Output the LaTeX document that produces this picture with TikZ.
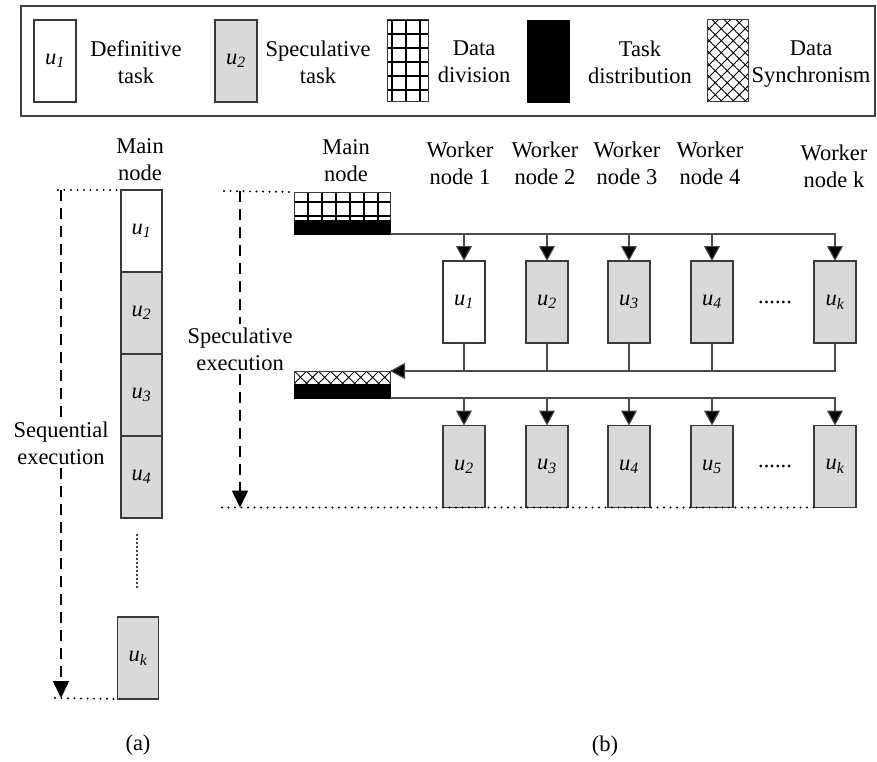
\documentclass[tikz,border=0pt]{standalone}
\usepackage{fontspec}
\setmainfont{Liberation Serif}
\usepackage{tikz}
\usetikzlibrary{arrows.meta,positioning,patterns.meta}
\definecolor{SpecGray}{HTML}{D9D9D9}
\definecolor{EdgeGray}{HTML}{3A3A3A}
\definecolor{LineGray}{HTML}{4A4A4A}
\newcommand{\ut}[1]{\textit{u}\textsubscript{\textit{#1}}}
\tikzset{
  task/.style={draw=EdgeGray,line width=1.2pt,minimum width=42pt,minimum height=82pt,
               inner sep=0pt,outer sep=0pt},
  divbox/.style={draw=EdgeGray,line width=1pt,inner sep=0pt,outer sep=0pt,
               pattern={Hatch[angle=0,distance=14pt,line width=1.2pt]}},
  distbox/.style={draw=black,fill=black,inner sep=0pt,outer sep=0pt},
  syncbox/.style={draw=EdgeGray,line width=1pt,inner sep=0pt,outer sep=0pt,
               pattern={Hatch[angle=45,distance=8.5pt,line width=0.9pt]}},
  lbl/.style={align=center,inner sep=3pt},
  flow/.style={draw=LineGray,line width=1.1pt},
  flowarr/.style={flow,-{Triangle[width=16pt,length=15pt,fill=black]}},
  dotline/.style={line width=2.2pt,line cap=round,dash pattern=on 0pt off 6.5pt},
  timearr/.style={line width=1.6pt,dash pattern=on 11pt off 7pt,
               -{Triangle[width=16pt,length=17pt]}}
}
\begin{document}
\begin{tikzpicture}[x=1pt,y=-1pt,font=\fontsize{22.5}{27}\selectfont]
  \useasboundingbox (0,0) rectangle (877,762);
  % legend
  \draw[draw=black!75,line width=1.5pt] (21,6) rectangle (875,116);
  \node[task,fill=white] (lu1) at (55,61) {\ut{1}};
  \node[lbl] (lt1) at (136,62) {Definitive\\task};
  \node[task,fill=SpecGray] (lu2) at (236,61) {\ut{2}};
  \node[lbl] (lt2) at (318,62) {Speculative\\task};
  \node[divbox,minimum width=41pt,minimum height=82pt] (ldiv) at (407.5,61) {};
  \node[lbl] (lt3) at (474,62) {Data\\division};
  \node[distbox,minimum width=42pt,minimum height=82pt] (ldist) at (548.5,61) {};
  \node[lbl] (lt4) at (640,62) {Task\\distribution};
  \node[syncbox,minimum width=41pt,minimum height=82pt] (lsync) at (727.5,61) {};
  \node[lbl] (lt5) at (811,64) {Data\\Synchronism};

  % (a) sequential execution
  \node[lbl] (amain) at (140,160) {Main\\node};
  \node[task,fill=white,minimum width=41pt,anchor=north] (a1) at (141.5,190) {\ut{1}};
  \node[task,fill=SpecGray,minimum width=41pt,below=0pt of a1] (a2) {\ut{2}};
  \node[task,fill=SpecGray,minimum width=41pt,below=0pt of a2] (a3) {\ut{3}};
  \node[task,fill=SpecGray,minimum width=41pt,below=0pt of a3] (a4) {\ut{4}};
  \node[task,fill=SpecGray,minimum width=41pt] (ak) at (138,658) {\ut{k}};
  \coordinate (adot1) at (137,535);
  \coordinate (adot2) at (137,588);
  \draw[dotline,dash pattern=on 0pt off 4pt] (adot1) -- (adot2);
  \coordinate (atop) at (58,190);
  \coordinate (abot) at (55,698);
  \draw[dotline] (atop) -- (a1.north west);
  \draw[dotline] (abot) -- (ak.south west);
  \node[lbl] (aseq) at (61,443) {Sequential\\execution};
  \draw[timearr,-] (aseq.north |- atop) -- (aseq.north);
  \draw[timearr] (aseq.south) -- (aseq.south |- abot);

  % (b) speculative execution
  \node[lbl] (bmain) at (346,161) {Main\\node};
  \foreach \i/\x in {1/460,2/545,3/627,4/710}
    \node[lbl] (w\i) at (\x,163) {Worker\\node \i};
  \node[lbl] (wk) at (834,166) {Worker\\node k};

  \node[divbox,minimum width=96pt,minimum height=28pt,anchor=north west] (mdiv) at (294,192) {};
  \node[distbox,minimum width=96pt,minimum height=14pt,below=0pt of mdiv] (mdist) {};
  \node[syncbox,minimum width=96pt,minimum height=13pt,anchor=north west] (msync) at (294,371) {};
  \node[distbox,minimum width=96pt,minimum height=14pt,below=0pt of msync] (mdist2) {};

  \coordinate (btop) at (224,191);
  \coordinate (bbot) at (222,507.5);
  \draw[dotline] (btop) -- (mdiv.north west);

  \foreach \i/\x/\c in {1/464/white,2/547/SpecGray,3/629/SpecGray,4/712/SpecGray,k/835/SpecGray}
    \node[task,fill=\c] (r1\i) at (\x,302) {\ut{\i}};
  \foreach \i/\x/\u in {1/464/2,2/547/3,3/629/4,4/712/5,k/835/k}
    \node[task,fill=SpecGray] (r2\i) at (\x,466.5) {\ut{\u}};
  \node (r1dots) at (775,302) {......};
  \node (r2dots) at (775,466) {......};
  \draw[dotline] (bbot) -- (r2k.south west);

  \draw[flowarr] (mdist.south east) -| (r1k.north);
  \foreach \i in {1,...,4}
    \draw[flowarr] (r1\i.north |- mdist.south) -- (r1\i.north);
  \draw[flowarr] (r1k.south) |- (msync.north east);
  \foreach \i in {1,...,4}
    \draw[flow] (r1\i.south) -- (r1\i.south |- msync.north);
  \draw[flowarr] (mdist2.south east) -| (r2k.north);
  \foreach \i in {1,...,4}
    \draw[flowarr] (r2\i.north |- mdist2.south) -- (r2\i.north);

  \node[lbl] (bspec) at (240,349) {Speculative\\execution};
  \draw[timearr,-] (bspec.north |- btop) -- (bspec.north);
  \draw[timearr] (bspec.south) -- (bspec.south |- bbot);

  \node (alab) at (138,745) {(a)};
  \node (blab) at (605,746) {(b)};
\end{tikzpicture}
\end{document}
